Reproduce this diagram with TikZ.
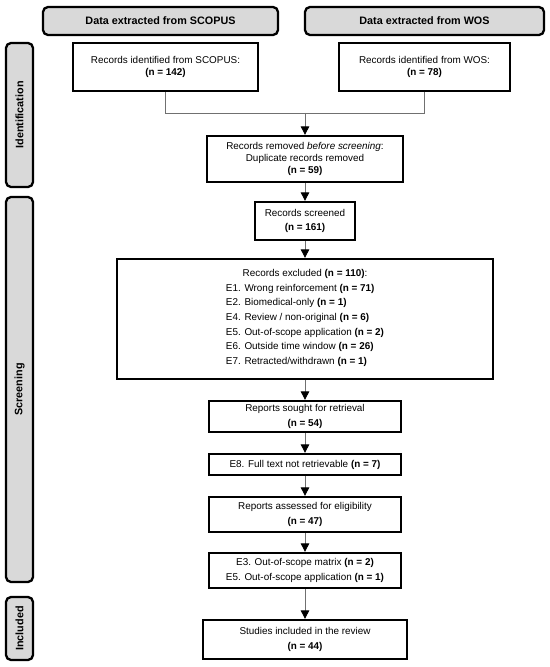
\documentclass[tikz,border=0pt]{standalone}
\usepackage{fontspec}
\setmainfont{Liberation Sans}
\usetikzlibrary{arrows.meta}
\definecolor{hdrgray}{HTML}{D9D9D9}
\definecolor{lngray}{HTML}{707070}
\begin{document}
\begin{tikzpicture}[x=1bp,y=-1bp,
  box/.style={draw=black, line width=2.3bp, fill=white, inner sep=0pt, align=center, font=\fontsize{9.9bp}{#1}\selectfont},
  box/.default=14bp,
  hdr/.style={draw=black, line width=2.3bp, fill=hdrgray, rounded corners=5bp, inner sep=0pt, font=\fontsize{10.8bp}{13bp}\selectfont\bfseries},
  side/.style={hdr, rotate=90},
  conn/.style={draw=lngray, line width=0.9bp},
  arr/.style={conn, -{Triangle[width=8.5bp,length=8.5bp,color=black]}}]
\useasboundingbox (0,0) rectangle (550,667);
\fill[white] (0,0) rectangle (550,667);
% headers
\node[hdr, minimum width=235bp, minimum height=28bp] (hs) at (160.5,21) {Data extracted from SCOPUS};
\node[hdr, minimum width=239bp, minimum height=28bp] (hw) at (424.5,21) {Data extracted from WOS};
% side labels
\node[side, minimum width=144bp, minimum height=27bp] (lid) at (19.5,115) {Identification};
\node[side, minimum width=385bp, minimum height=27bp] (lsc) at (19.5,389.5) {Screening};
\node[side, minimum width=63bp, minimum height=27bp] (lin) at (19.5,628.5) {Included};
% boxes
\node[box=12.5bp, minimum width=185bp, minimum height=48bp] (rs) at (165.5,67) {Records identified from SCOPUS:\\ \textbf{(n = 142)}};
\node[box=12.5bp, minimum width=171bp, minimum height=48bp] (rw) at (424.5,67) {Records identified from WOS:\\ \textbf{(n = 78)}};
\node[box=12bp, minimum width=196bp, minimum height=46bp] (rm) at (305,159) {Records removed \textit{before screening}:\\ Duplicate records removed\\ \textbf{(n = 59)}};
\node[box=14.3bp, minimum width=100bp, minimum height=38bp] (sc) at (305,221) {Records screened\\ \textbf{(n = 161)}};
\node[box=14.6bp, minimum width=376bp, minimum height=120bp] (ex) at (305,319) {Records excluded \textbf{(n = 110)}:\\
  \begin{tabular}[t]{@{}l@{}}
  E1. Wrong reinforcement \textbf{(n = 71)}\\
  E2. Biomedical-only \textbf{(n = 1)}\\
  E4. Review / non-original \textbf{(n = 6)}\\
  E5. Out-of-scope application \textbf{(n = 2)}\\
  E6. Outside time window \textbf{(n = 26)}\\
  E7. Retracted/withdrawn \textbf{(n = 1)}
  \end{tabular}};
\node[box=15.5bp, minimum width=192bp, minimum height=31bp] (so) at (305,416.5) {Reports sought for retrieval\\ \textbf{(n = 54)}};
\node[box, minimum width=192bp, minimum height=21bp] (e8) at (305,464.5) {E8. Full text not retrievable \textbf{(n = 7)}};
\node[box=15bp, minimum width=192bp, minimum height=35bp] (ra) at (305,514.5) {Reports assessed for eligibility\\ \textbf{(n = 47)}};
\node[box=15.3bp, minimum width=192bp, minimum height=35bp] (e3) at (305,570.5) {E3. Out-of-scope matrix \textbf{(n = 2)}\\ E5. Out-of-scope application \textbf{(n = 1)}};
\node[box=15bp, minimum width=204bp, minimum height=39bp] (st) at (305,639.5) {Studies included in the review\\ \textbf{(n = 44)}};
% connectors
\coordinate (j) at (305,113);
\draw[conn] (rs.south) |- (rw.south |- j) -- (rw.south);
\draw[arr] (j) -- (rm.north);
\draw[arr] (rm.south) -- (sc.north);
\draw[arr] (sc.south) -- (ex.north);
\draw[arr] (ex.south) -- (so.north);
\draw[arr] (so.south) -- (e8.north);
\draw[arr] (e8.south) -- (ra.north);
\draw[arr] (ra.south) -- (e3.north);
\draw[arr] (e3.south) -- (st.north);
\end{tikzpicture}
\end{document}
